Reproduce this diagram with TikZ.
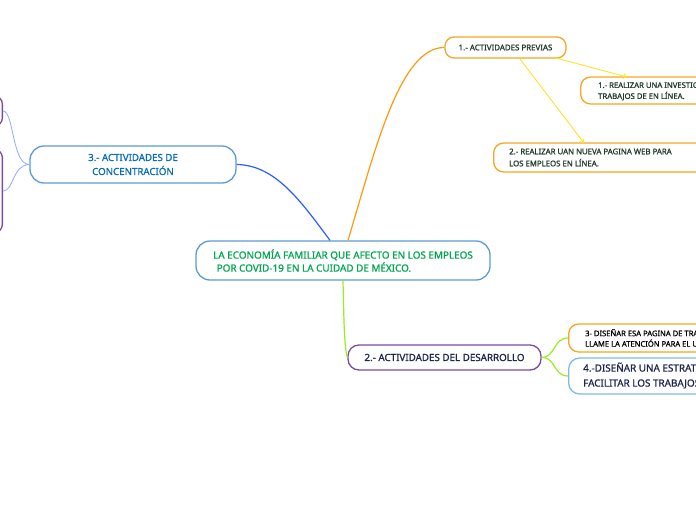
\documentclass[tikz,border=0pt]{standalone}
\usepackage{fontspec}
\setmainfont{Noto Sans}[FakeBold=0.9]
\usetikzlibrary{arrows.meta}
\definecolor{cblue}{HTML}{5B9BD5}
\definecolor{cgreen}{HTML}{00A650}
\definecolor{lblue}{HTML}{2A5BFF}
\definecolor{lorange}{HTML}{FF9A10}
\definecolor{llime}{HTML}{99EE22}
\definecolor{lyellow}{HTML}{FFE227}
\definecolor{lpale}{HTML}{8EAAFF}
\definecolor{bpurple}{HTML}{7B4C9C}
\definecolor{borange}{HTML}{F5A623}
\definecolor{bsky}{HTML}{7FBCEA}
\definecolor{tblue}{HTML}{0B6DB7}
\definecolor{tdkgreen}{HTML}{1F3B2A}
\definecolor{tnavy}{HTML}{1C2550}
\tikzset{
  box/.style={draw, rounded corners=11pt, line width=1.3pt, fill=white, inner sep=0pt},
  conn/.style={line width=1.2pt},
  tip/.style={-{Straight Barb[length=3pt,width=5pt]}},
}
\begin{document}
\begin{tikzpicture}[x=1pt,y=-1pt]
\useasboundingbox (0,0) rectangle (696,520);
\clip (0,0) rectangle (696,520);
% central
\node[box, draw=cblue, rounded corners=14pt, minimum width=294pt, minimum height=39pt, align=left, text=cgreen, font=\fontsize{9.9}{13}\selectfont] (c) at (343,260.5) {LA ECONOMÍA FAMILIAR QUE AFECTO EN LOS EMPLEOS\\\hspace*{3.5pt}POR COVID-19 EN LA CUIDAD DE MÉXICO.};
% 1.- ACTIVIDADES PREVIAS
\node[box, draw=borange, rounded corners=9pt, minimum width=121pt, minimum height=21pt, text=tdkgreen, font=\fontsize{7.9}{9}\selectfont] (p) at (505.5,47.5) {1.- ACTIVIDADES PREVIAS};
% child 1
\node[box, draw=borange, rounded corners=10pt, minimum width=150pt, minimum height=27pt, anchor=west] (p1) at (580,90.5) {};
\node[anchor=west, align=left, text=tdkgreen, font=\fontsize{7.7}{11}\selectfont, inner sep=0pt] (p1t) at (598,90.5) {1.- REALIZAR UNA INVESTIGACIÓN SOBRE LOS\\TRABAJOS DE EN LÍNEA.};
% child 2
\node[box, draw=borange, rounded corners=10pt, minimum width=230pt, minimum height=29pt, anchor=west] (p2) at (493,157.5) {};
\node[anchor=west, align=left, text=tdkgreen, font=\fontsize{7.8}{12}\selectfont, inner sep=0pt] (p2t) at (509,157.5) {2.- REALIZAR UAN NUEVA PAGINA WEB PARA\\LOS EMPLEOS EN LÍNEA.};
% 3.- box
\node[box, draw=cblue, rounded corners=14pt, minimum width=206pt, minimum height=37pt, align=center, text=tblue, font=\fontsize{9.7}{14}\selectfont] (a3) at (133,164.5) {3.- ACTIVIDADES DE\\CONCENTRACIÓN};
% left purple boxes
\node[box, draw=bpurple, rounded corners=8pt, minimum width=60pt, minimum height=30pt, anchor=east] (l1) at (3,111) {};
\node[box, draw=bpurple, rounded corners=8pt, minimum width=60pt, minimum height=83pt, anchor=east] (l2) at (3,191) {};
% 2.- box
\node[box, draw=bpurple, rounded corners=11pt, minimum width=193pt, minimum height=25pt, text=tnavy, font=\fontsize{9.8}{11}\selectfont] (a2) at (444.5,357.5) {2.- ACTIVIDADES DEL DESARROLLO};
% child 3
\node[box, draw=borange, rounded corners=10pt, minimum width=200pt, minimum height=28pt, anchor=west] (d3) at (568,338) {};
\node[anchor=west, align=left, text=black, font=\fontsize{7.6}{10.5}\selectfont, inner sep=0pt] (d3t) at (585,338) {3- DISEÑAR ESA PAGINA DE TRABAJO QUE\\LLAME LA ATENCIÓN PARA EL USUARIO.};
% child 4
\node[box, draw=bsky, rounded corners=11pt, minimum width=200pt, minimum height=36pt, anchor=west] (d4) at (568,376) {};
\node[anchor=west, align=left, text=tnavy, font=\fontsize{9.9}{15}\selectfont, inner sep=0pt] (d4t) at (583,375.5) {4.-DISEÑAR UNA ESTRATEGIA PARA\\FACILITAR LOS TRABAJOS EN LÍNEA.};
% connectors
\draw[conn, lblue] ([xshift=-13pt]c.north) .. controls (300,200) and (275,165) .. (a3.east);
\draw[conn, lorange] ([xshift=5pt]c.north) .. controls (375,150) and (400,47) .. (p.west);
\draw[conn, llime] (c.south) .. controls (344,320) and (344,345) .. (a2.west);
\draw[conn, llime] (a2.east) .. controls (556,357) and (553,338) .. (d3.west);
\draw[conn, llime] (a2.east) .. controls (556,357) and (553,376) .. (d4.west);
\draw[line width=0.8pt, lpale] (a3.west) .. controls (12,165) and (14,111) .. (l1.east);
\draw[line width=0.8pt, lpale] (a3.west) .. controls (12,165) and (14,191) .. (l2.east);
\coordinate (y1s) at (520,59);
\coordinate (y2s) at (556,58);
\draw[conn, line width=0.9pt, lyellow, tip] (y1s) -- (584,143);
\draw[conn, line width=0.9pt, lyellow, tip] (y2s) -- (627,77);
\end{tikzpicture}
\end{document}
